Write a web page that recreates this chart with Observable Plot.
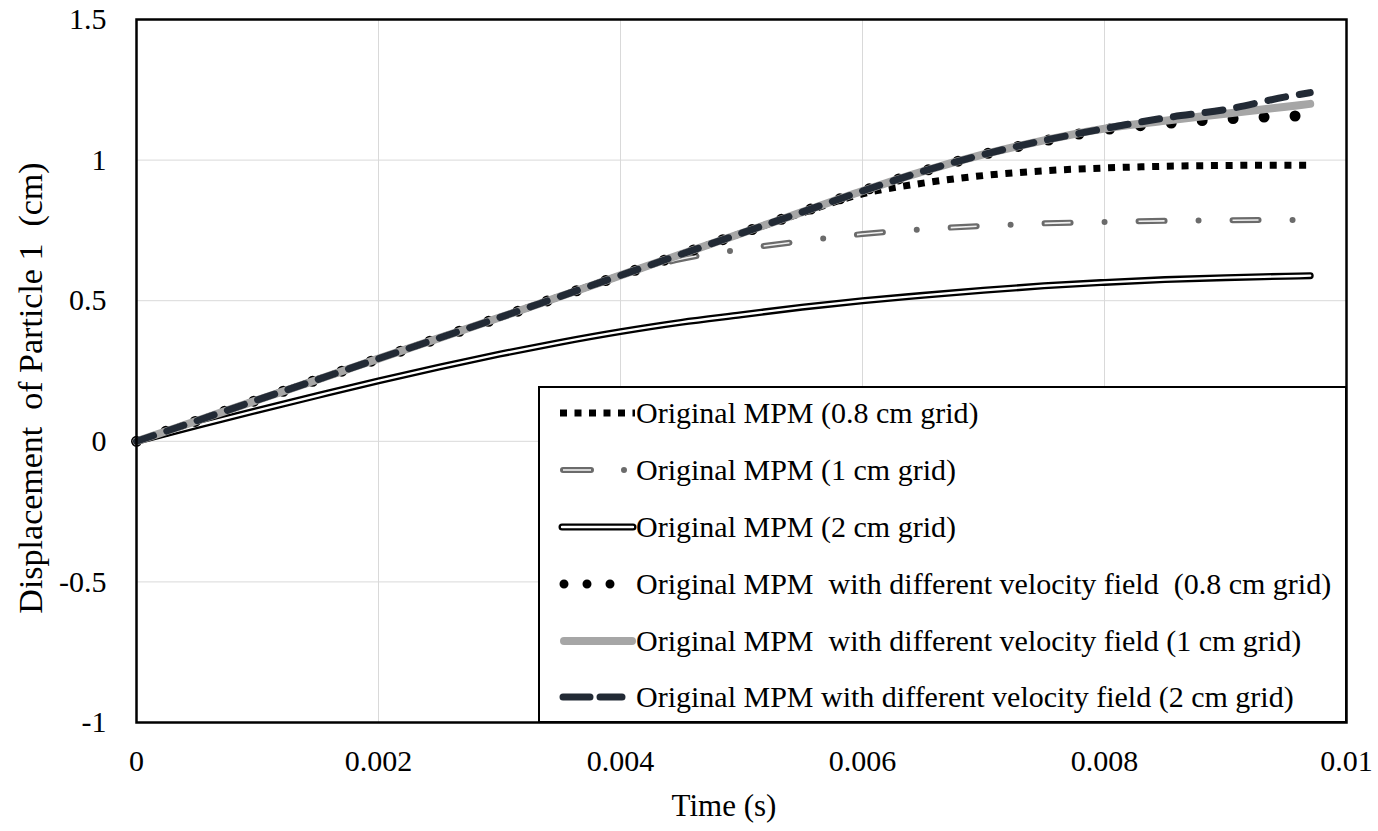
<!DOCTYPE html>
<html>
<head>
<meta charset="utf-8">
<script src="https://cdn.jsdelivr.net/npm/d3@7"></script>
<script src="https://cdn.jsdelivr.net/npm/@observablehq/plot@0.6"></script>
<style>
  html, body { margin: 0; padding: 0; background: #fff; }
  #wrap { position: relative; width: 1378px; height: 831px; font-family: "Liberation Serif", "Times New Roman", serif; }
  #legend { position: absolute; left: 538px; top: 386px; width: 809px; height: 337px; box-sizing: border-box;
            border: 2px solid #000; background: #fff; }
  .row { position: absolute; left: 0; height: 30px; width: 800px; }
  .row svg { position: absolute; left: 0; top: 0; }
  .row span { position: absolute; left: 96px; top: 0; font-size: 30px; line-height: 30px; white-space: pre; color: #000; }
</style>
</head>
<body>
<div id="wrap"></div>
<script>
// ---- data ----
const time      = [0, 0.0005, 0.001, 0.0015, 0.002, 0.0025, 0.003, 0.0035, 0.004, 0.0045, 0.005, 0.0055, 0.006, 0.0065, 0.007, 0.0075, 0.008, 0.0085, 0.009, 0.0095, 0.0097];
const mpm08     = [0, 0.073, 0.147, 0.22, 0.294, 0.367, 0.44, 0.515, 0.59, 0.665, 0.74, 0.812, 0.88, 0.918, 0.945, 0.962, 0.972, 0.978, 0.981, 0.982, 0.982];
const mpm1      = [0, 0.073, 0.147, 0.22, 0.294, 0.367, 0.44, 0.515, 0.59, 0.648, 0.683, 0.712, 0.737, 0.754, 0.766, 0.775, 0.78, 0.784, 0.786, 0.787, 0.787];
const mpm2      = [0, 0.056, 0.11, 0.163, 0.215, 0.264, 0.31, 0.352, 0.39, 0.423, 0.45, 0.477, 0.5, 0.519, 0.537, 0.553, 0.565, 0.575, 0.582, 0.587, 0.589];
const dvf08     = [0, 0.073, 0.147, 0.22, 0.294, 0.367, 0.44, 0.515, 0.59, 0.665, 0.74, 0.815, 0.89, 0.96, 1.02, 1.068, 1.108, 1.13, 1.146, 1.156, 1.158];
const dvf1      = [0, 0.073, 0.147, 0.22, 0.294, 0.367, 0.44, 0.515, 0.59, 0.665, 0.74, 0.815, 0.89, 0.96, 1.02, 1.07, 1.112, 1.14, 1.165, 1.19, 1.2];
const dvf2      = [0, 0.073, 0.147, 0.22, 0.294, 0.367, 0.44, 0.515, 0.59, 0.665, 0.74, 0.815, 0.89, 0.96, 1.02, 1.07, 1.112, 1.15, 1.18, 1.225, 1.24];
const seriesNames = [
  "Original MPM (0.8 cm grid)",
  "Original MPM (1 cm grid)",
  "Original MPM (2 cm grid)",
  "Original MPM  with different velocity field  (0.8 cm grid)",
  "Original MPM  with different velocity field (1 cm grid)",
  "Original MPM with different velocity field (2 cm grid)"
];
const xTicks = [0, 0.002, 0.004, 0.006, 0.008, 0.01];
const xTickLabels = ["0", "0.002", "0.004", "0.006", "0.008", "0.01"];
const yTicks = [-1, -0.5, 0, 0.5, 1, 1.5];
const yTickLabels = ["-1", "-0.5", "0", "0.5", "1", "1.5"];
const xTitle = "Time (s)";
const yTitle = "Displacement  of Particle 1  (cm)";

const rows = arr => time.map((t, i) => ({t, v: arr[i]}));
const FONT = "'Liberation Serif', 'Times New Roman', serif";
const navy = "#222a35", lightGray = "#a6a6a6", midGray = "#6b6b6b";

const common = {x: "t", y: "v", curve: "monotone-x"};

const chart = Plot.plot({
  width: 1378, height: 831,
  marginLeft: 136, marginRight: 32, marginTop: 19, marginBottom: 109,
  style: {fontFamily: FONT, fontSize: "30px", background: "#fff", color: "#000", overflow: "visible"},
  x: {domain: [0, 0.01], ticks: xTicks, tickFormat: d => xTickLabels[xTicks.findIndex(v => Math.abs(v - d) < 1e-9)], tickSize: 0, tickPadding: 27, label: null},
  y: {domain: [-1, 1.5], ticks: yTicks, tickFormat: d => yTickLabels[yTicks.findIndex(v => Math.abs(v - d) < 1e-9)], tickSize: 0, tickPadding: 30, label: null},
  marks: [
    Plot.ruleX(xTicks.slice(1, -1), {stroke: "#d9d9d9", strokeWidth: 1}),
    Plot.ruleY(yTicks.slice(1, -1), {stroke: "#d9d9d9", strokeWidth: 1}),
    // 2 cm grid: double line
    Plot.line(rows(mpm2), {...common, stroke: "#000", strokeWidth: 7, strokeLinecap: "round"}),
    Plot.line(rows(mpm2), {...common, stroke: "#fff", strokeWidth: 2.4, strokeLinecap: "round"}),
    // 1 cm grid: dash-dot with light core
    Plot.line(rows(mpm1), {...common, stroke: midGray, strokeWidth: 6, strokeLinecap: "round", strokeDasharray: "26 34 0 34"}),
    Plot.line(rows(mpm1), {...common, stroke: "#f0f0f0", strokeWidth: 1.6, strokeLinecap: "butt", strokeDasharray: "26 68"}),
    // 0.8 cm grid: square dots
    Plot.line(rows(mpm08), {...common, stroke: "#000", strokeWidth: 7, strokeLinecap: "butt", strokeDasharray: "7 7.7"}),
    // different velocity field 0.8: round dots
    Plot.line(rows(dvf08), {...common, stroke: "#000", strokeWidth: 11, strokeLinecap: "round", strokeDasharray: "0 31"}),
    // different velocity field 1: gray solid
    Plot.line(rows(dvf1), {...common, stroke: lightGray, strokeWidth: 8, strokeLinecap: "round"}),
    // different velocity field 2: navy dashed
    Plot.line(rows(dvf2), {...common, stroke: navy, strokeWidth: 7, strokeLinecap: "round", strokeDasharray: "18 14"}),
    Plot.frame({stroke: "#000", strokeWidth: 2.5})
  ]
});

const svg = d3.select(chart);
svg.selectAll("text").style("font-family", FONT).style("font-size", "30px").attr("fill", "#000");

// axis titles
svg.append("text").text(xTitle)
  .attr("x", 724).attr("y", 816).attr("text-anchor", "middle")
  .style("font-family", FONT).style("font-size", "31px").attr("fill", "#000");
svg.append("text").text(yTitle)
  .attr("transform", "translate(42,388) rotate(-90)").attr("text-anchor", "middle")
  .style("font-family", FONT).style("font-size", "34px").style("white-space", "pre").attr("fill", "#000");

const wrap = document.getElementById("wrap");
wrap.appendChild(chart);

// legend (HTML overlay)
const swatches = [
  `<line x1="20" y1="15" x2="95" y2="15" stroke="#000" stroke-width="7" stroke-dasharray="7 7.5"/>`,
  `<line x1="23" y1="15" x2="90" y2="15" stroke="${midGray}" stroke-width="6" stroke-linecap="round" stroke-dasharray="28 33 0 100"/>
   <line x1="23" y1="15" x2="51" y2="15" stroke="#f0f0f0" stroke-width="1.6"/>`,
  `<line x1="22" y1="15" x2="93" y2="15" stroke="#000" stroke-width="7" stroke-linecap="round"/>
   <line x1="22" y1="15" x2="93" y2="15" stroke="#fff" stroke-width="2.4" stroke-linecap="round"/>`,
  `<line x1="24" y1="15" x2="71" y2="15" stroke="#000" stroke-width="9" stroke-linecap="round" stroke-dasharray="0 23"/>`,
  `<line x1="24" y1="15" x2="92" y2="15" stroke="${lightGray}" stroke-width="8" stroke-linecap="round"/>`,
  `<line x1="23" y1="15" x2="82" y2="15" stroke="${navy}" stroke-width="7" stroke-linecap="round" stroke-dasharray="27 10"/>`
];
const legend = document.createElement("div");
legend.id = "legend";
const rowCenters = [27, 84, 141, 198, 255, 311];
seriesNames.forEach((name, i) => {
  const r = document.createElement("div");
  r.className = "row";
  r.style.top = (rowCenters[i] - 2 - 15) + "px";
  r.innerHTML = `<svg width="100" height="30">${swatches[i]}</svg><span></span>`;
  r.querySelector("span").textContent = name;
  legend.appendChild(r);
});
wrap.appendChild(legend);
</script>
</body>
</html>
